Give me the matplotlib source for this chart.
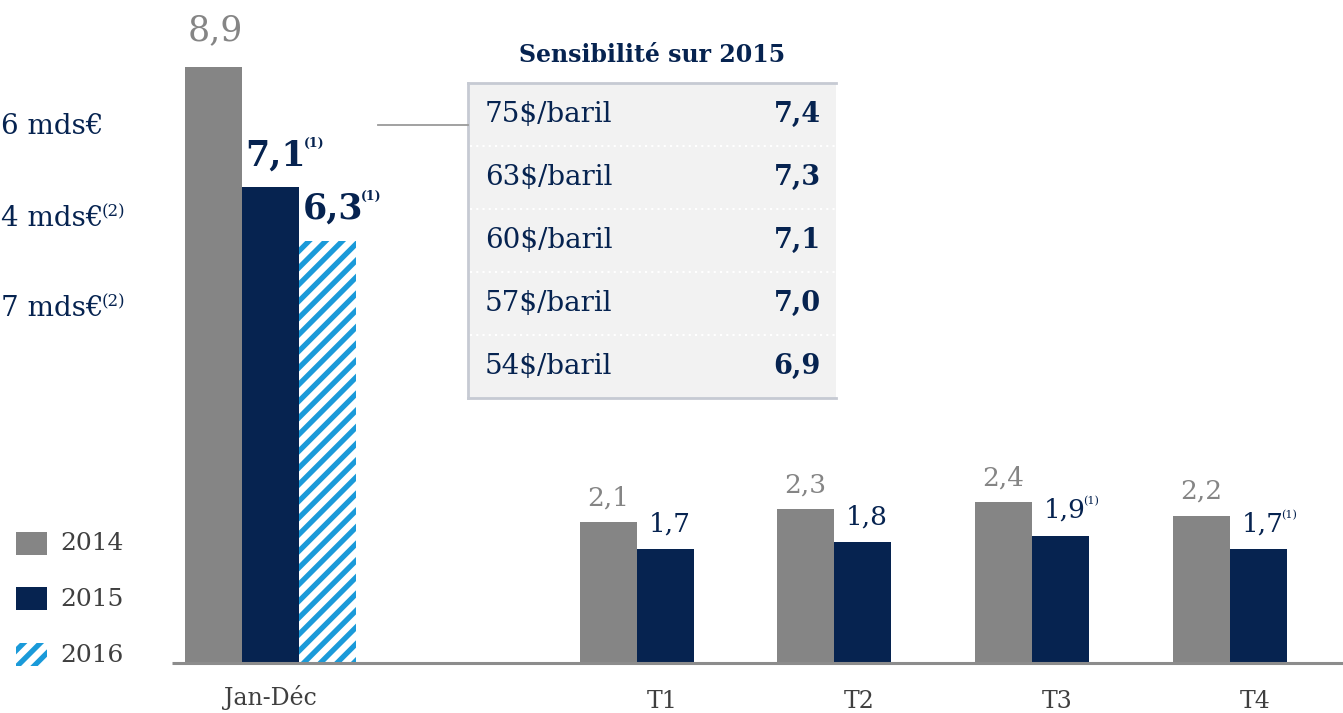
import matplotlib
matplotlib.use("Agg")
import matplotlib.pyplot as plt
from matplotlib.patches import Rectangle
from matplotlib.lines import Line2D

plt.rcParams['font.family'] = ['DejaVu Serif']
plt.rcParams['hatch.linewidth'] = 3.8

# ---------------- data ----------------
groups = ["Jan-Déc", "T1", "T2", "T3", "T4"]
vals_2014 = [8.9, 2.1, 2.3, 2.4, 2.2]
vals_2015 = [7.1, 1.7, 1.8, 1.9, 1.7]
vals_2016 = [6.3]
labels_2014 = ["8,9", "2,1", "2,3", "2,4", "2,2"]
labels_2015 = ["7,1", "1,7", "1,8", "1,9", "1,7"]
labels_2016 = ["6,3"]
note_2015 = ["(1)", "", "", "(1)", "(1)"]
note_2016 = ["(1)"]
legend_years = ["2014", "2015", "2016"]
sens_title = "Sensibilité sur 2015"
sens_prices = ["75$/baril", "63$/baril", "60$/baril", "57$/baril", "54$/baril"]
sens_values = ["7,4", "7,3", "7,1", "7,0", "6,9"]
side_texts = ["6 mds€", "4 mds€", "7 mds€"]
side_notes = ["", "(2)", "(2)"]

# ---------------- style ----------------
GRAY = "#858585"
NAVY = "#062350"
BLUE = "#1a9ad9"
DARK = "#3f3f3f"
W, H = 1343, 713
BASE = 663          # baseline pixel row
PX = 67.0           # pixels per unit

fig = plt.figure(figsize=(W / 100, H / 100), dpi=100)
ax = fig.add_axes([0, (H - BASE) / H, 1, BASE / H])
ax.set_xlim(0, W)
ax.set_ylim(0, BASE / PX)
ax.axis("off")

def F(x, y):
    """top-left pixel -> figure fraction"""
    return (x / W, 1 - y / H)

bw = 57
centers = [270, 637, 834, 1032, 1230]

def sup(t, note, size, color, weight="normal"):
    if note:
        ax.annotate(note, xy=(1.0, 1.0), xycoords=t, xytext=(-1.5, 1),
                    textcoords="offset points", ha="left", va="top",
                    fontsize=size, color=color, fontweight=weight)

# Jan-Dec group (3 bars)
c0 = centers[0]
ax.bar(c0 - bw, vals_2014[0], width=bw, color=GRAY, linewidth=0)
ax.bar(c0, vals_2015[0], width=bw, color=NAVY, linewidth=0)
ax.bar(c0 + bw, vals_2016[0], width=bw, facecolor="white", edgecolor=BLUE,
       hatch="//", linewidth=0)

ax.annotate(labels_2014[0], xy=(c0 - bw, vals_2014[0]), xytext=(2, 19),
            textcoords="offset points", ha="center", va="baseline",
            fontsize=25, color=GRAY)
t = ax.annotate(labels_2015[0], xy=(c0, vals_2015[0]), xytext=(4, 16),
                textcoords="offset points", ha="center", va="baseline",
                fontsize=25, color=NAVY, fontweight="bold")
sup(t, note_2015[0], 9, NAVY, "bold")
t = ax.annotate(labels_2016[0], xy=(c0 + bw, vals_2016[0]), xytext=(4, 16),
                textcoords="offset points", ha="center", va="baseline",
                fontsize=25, color=NAVY, fontweight="bold")
sup(t, note_2016[0], 9, NAVY, "bold")

# quarterly groups
for i in range(1, 5):
    c = centers[i]
    ax.bar(c - bw / 2, vals_2014[i], width=bw, color=GRAY, linewidth=0)
    ax.bar(c + bw / 2, vals_2015[i], width=bw, color=NAVY, linewidth=0)
    ax.annotate(labels_2014[i], xy=(c - bw / 2, vals_2014[i]), xytext=(0, 12),
                textcoords="offset points", ha="center", va="baseline",
                fontsize=19, color=GRAY)
    t = ax.annotate(labels_2015[i], xy=(c + bw / 2, vals_2015[i]), xytext=(3, 13),
                    textcoords="offset points", ha="center", va="baseline",
                    fontsize=19, color=NAVY)
    sup(t, note_2015[i], 8, NAVY)

# baseline
ax.plot([172, W], [0, 0], color="#8c8c8c", lw=2.2, clip_on=False,
        solid_capstyle="butt")

# x labels
fig.text(*F(c0, 697), groups[0], ha="center", va="center", fontsize=17, color=DARK)
for i in range(1, 5):
    fig.text(*F(centers[i] + 25, 701), groups[i], ha="center", va="center",
             fontsize=17, color=DARK)

# legend
leg_y = [544, 599, 655]
for k, yr in enumerate(legend_years):
    x0, y0 = F(16, leg_y[k] + 11)
    if k == 0:
        r = Rectangle((x0, y0), 31 / W, 23 / H, transform=fig.transFigure,
                      facecolor=GRAY, linewidth=0)
    elif k == 1:
        r = Rectangle((x0, y0), 31 / W, 23 / H, transform=fig.transFigure,
                      facecolor=NAVY, linewidth=0)
    else:
        r = Rectangle((x0, y0), 31 / W, 23 / H, transform=fig.transFigure,
                      facecolor="white", edgecolor=BLUE, hatch="//", linewidth=0)
    fig.add_artist(r)
    fig.text(*F(60, leg_y[k]), yr, ha="left", va="center", fontsize=18, color=DARK)

# side texts
side_y = [127, 218, 308]
for k, s in enumerate(side_texts):
    t = fig.text(*F(1, side_y[k]), s, ha="left", va="center", fontsize=20, color=NAVY)
    if side_notes[k]:
        fig.add_artist(plt.Annotation(side_notes[k], xy=(1.0, 1.0), xycoords=t,
                                      xytext=(-1.5, 1), textcoords="offset points",
                                      ha="left", va="top", fontsize=12, color=NAVY))

# sensitivity table
tx0, tx1, ty0, ty1 = 468, 836, 83, 398
bx, by = F(tx0, ty1)
fig.add_artist(Rectangle((bx, by), (tx1 - tx0) / W, (ty1 - ty0) / H,
                         transform=fig.transFigure, facecolor="#f2f2f2",
                         linewidth=0))
bc = "#c6cad3"
fig.add_artist(Line2D([tx0 / W, tx0 / W], [1 - ty0 / H, 1 - ty1 / H],
                      transform=fig.transFigure, color=bc, lw=2))
fig.add_artist(Line2D([tx0 / W, tx1 / W], [1 - ty0 / H, 1 - ty0 / H],
                      transform=fig.transFigure, color=bc, lw=2))
fig.add_artist(Line2D([tx0 / W, tx1 / W], [1 - ty1 / H, 1 - ty1 / H],
                      transform=fig.transFigure, color=bc, lw=2))
row_h = (ty1 - ty0) / len(sens_prices)
for k in range(len(sens_prices)):
    yc = ty0 + row_h * (k + 0.5)
    fig.text(*F(485, yc), sens_prices[k], ha="left", va="center",
             fontsize=20, color=NAVY)
    fig.text(*F(821, yc), sens_values[k], ha="right", va="center",
             fontsize=19.5, color=NAVY, fontweight="bold")
    if k > 0:
        ys = 1 - (ty0 + row_h * k) / H
        fig.add_artist(Line2D([(tx0 + 2) / W, tx1 / W], [ys, ys],
                              transform=fig.transFigure, color="white",
                              lw=1.5, linestyle=(0, (1, 2))))
fig.text(*F(652, 55), sens_title, ha="center", va="center", fontsize=17,
         color=NAVY, fontweight="bold")

# connector line
fig.add_artist(Line2D([378 / W, tx0 / W], [1 - 125 / H, 1 - 125 / H],
                      transform=fig.transFigure, color="#9a9a9a", lw=1.3))

fig.savefig("out.png", dpi=100)
